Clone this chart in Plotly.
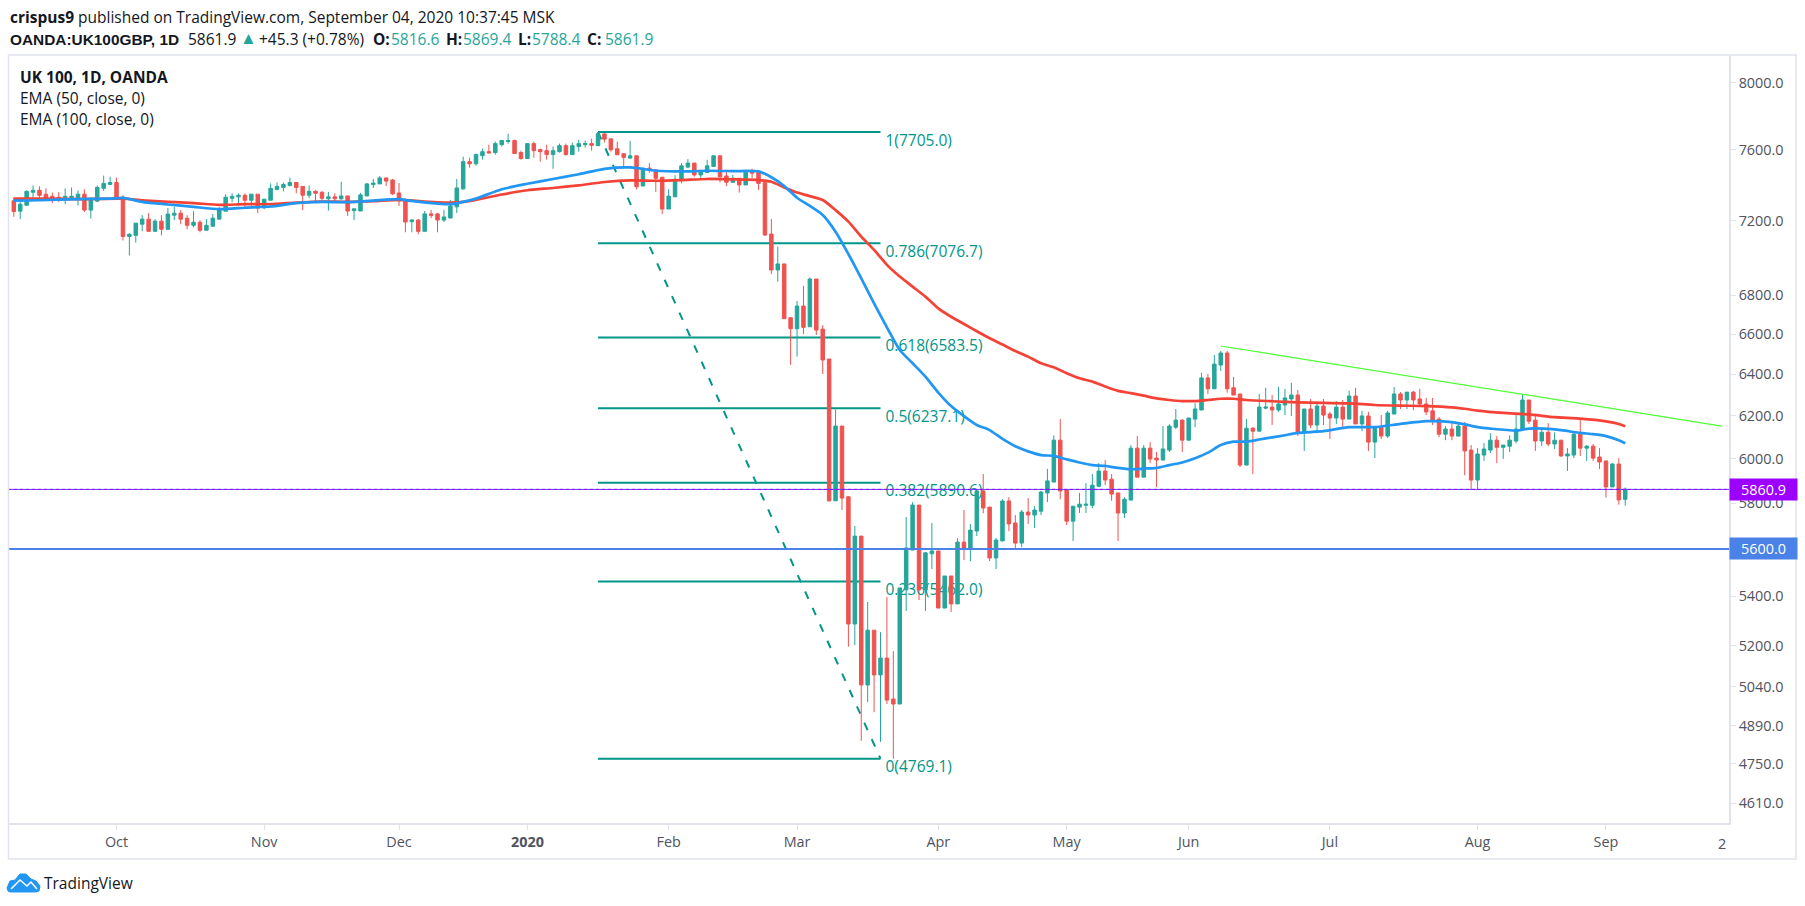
import math
import pandas as pd
import plotly.graph_objects as go

# daily candles, one row per ten bars, first bar 2019-09-09
opens = [
    7310, 7252, 7285, 7358, 7369, 7347, 7335, 7330, 7317, 7328,
    7328, 7347, 7258, 7308, 7380, 7402, 7413, 7330, 7113, 7119,
    7180, 7208, 7141, 7197, 7152, 7230, 7241, 7213, 7174, 7191,
    7147, 7169, 7208, 7252, 7324, 7332, 7341, 7313, 7347, 7271,
    7313, 7374, 7385, 7396, 7413, 7391, 7341, 7363, 7358, 7321,
    7332, 7321, 7337, 7255, 7253, 7337, 7401, 7405, 7439, 7427,
    7354, 7315, 7194, 7203, 7141, 7237, 7237, 7203, 7214, 7276,
    7377, 7532, 7520, 7567, 7590, 7585, 7631, 7649, 7655, 7585,
    7550, 7637, 7602, 7596, 7573, 7590, 7625, 7573, 7620, 7631,
    7637, 7625, 7694, 7665, 7607, 7578, 7553, 7566, 7393, 7495,
    7485, 7443, 7264, 7332, 7427, 7501, 7524, 7456, 7470, 7505,
    7566, 7450, 7414, 7437, 7399, 7476, 7470, 7412, 7126, 6933,
    6965, 6684, 6628, 6744, 6638, 6885, 6626, 6476, 5810, 6152,
    5828, 5287, 5655, 5046, 5262, 5085, 5151, 4992, 4973, 5427,
    5595, 5791, 5427, 5579, 5591, 5352, 5485, 5369, 5629, 5604,
    5677, 5854, 5782, 5561, 5634, 5809, 5712, 5625, 5760, 5747,
    5764, 5845, 5894, 6086, 5858, 5720, 5782, 5790, 5790, 5875,
    5944, 5907, 5845, 5756, 5813, 6049, 5916, 6049, 6003, 5994,
    6040, 6147, 6180, 6086, 6185, 6228, 6383, 6330, 6446, 6506,
    6335, 6305, 5971, 6142, 6128, 6237, 6242, 6228, 6252, 6281,
    6300, 6123, 6233, 6157, 6247, 6209, 6190, 6242, 6185, 6295,
    6162, 6200, 6077, 6147, 6105, 6209, 6305, 6276, 6314, 6281,
    6257, 6224, 6185, 6114, 6138, 6105, 6152, 6040, 5903, 6017,
    6040, 6086, 6053, 6058, 6082, 6138, 6276, 6180, 6082, 6123,
    6068, 6086, 6013, 6017, 6114, 6049, 6058, 6008, 5990, 5872, 5976, 5816.6,
]
highs = [
    7328, 7306, 7369, 7396, 7391, 7380, 7356, 7359, 7380, 7385,
    7367, 7374, 7328, 7396, 7452, 7446, 7441, 7341, 7130, 7186,
    7230, 7241, 7208, 7230, 7269, 7276, 7258, 7230, 7252, 7202,
    7208, 7236, 7274, 7347, 7352, 7352, 7352, 7347, 7347, 7319,
    7408, 7413, 7413, 7441, 7413, 7391, 7396, 7369, 7363, 7360,
    7352, 7418, 7337, 7265, 7354, 7410, 7433, 7450, 7439, 7433,
    7410, 7321, 7209, 7209, 7253, 7259, 7242, 7259, 7315, 7433,
    7561, 7555, 7579, 7608, 7631, 7649, 7655, 7695, 7660, 7596,
    7637, 7649, 7608, 7631, 7620, 7637, 7637, 7643, 7660, 7655,
    7666, 7705, 7698, 7665, 7648, 7582, 7653, 7566, 7495, 7524,
    7485, 7443, 7376, 7455, 7524, 7547, 7524, 7485, 7543, 7566,
    7566, 7485, 7456, 7437, 7476, 7491, 7476, 7412, 7208, 7058,
    6965, 6684, 6770, 6849, 6892, 6885, 6646, 6476, 6231, 6152,
    5828, 5699, 5655, 5377, 5262, 5254, 5397, 5178, 5435, 5738,
    5804, 5791, 5587, 5712, 5591, 5485, 5485, 5646, 5769, 5708,
    5858, 5930, 5782, 5647, 5817, 5826, 5747, 5769, 5822, 5787,
    5854, 5954, 6109, 6185, 5858, 5786, 5845, 5889, 5930, 5980,
    5994, 5930, 5845, 5826, 6063, 6105, 6063, 6077, 6031, 6152,
    6161, 6233, 6185, 6190, 6260, 6408, 6403, 6496, 6516, 6516,
    6388, 6305, 6185, 6147, 6305, 6335, 6300, 6339, 6330, 6359,
    6325, 6233, 6281, 6266, 6281, 6219, 6271, 6276, 6320, 6335,
    6224, 6219, 6147, 6204, 6224, 6339, 6314, 6314, 6320, 6330,
    6286, 6286, 6195, 6152, 6171, 6171, 6171, 6063, 6049, 6072,
    6118, 6105, 6063, 6109, 6214, 6305, 6276, 6204, 6147, 6166,
    6123, 6086, 6049, 6123, 6185, 6063, 6068, 6049, 5990, 5980, 6003, 5869.4,
]
lows = [
    7221, 7208, 7285, 7328, 7319, 7313, 7297, 7304, 7291, 7315,
    7284, 7247, 7211, 7304, 7365, 7402, 7319, 7091, 7010, 7080,
    7141, 7141, 7141, 7119, 7152, 7202, 7180, 7152, 7163, 7136,
    7147, 7169, 7208, 7252, 7302, 7285, 7269, 7280, 7241, 7263,
    7313, 7369, 7363, 7391, 7352, 7258, 7324, 7297, 7297, 7255,
    7309, 7315, 7225, 7203, 7253, 7337, 7382, 7405, 7393, 7343,
    7281, 7136, 7136, 7125, 7141, 7214, 7136, 7192, 7214, 7242,
    7371, 7497, 7509, 7544, 7579, 7573, 7620, 7637, 7579, 7544,
    7550, 7555, 7532, 7544, 7491, 7585, 7567, 7573, 7590, 7614,
    7596, 7625, 7644, 7590, 7572, 7505, 7547, 7374, 7393, 7468,
    7360, 7236, 7264, 7332, 7408, 7495, 7446, 7433, 7470, 7505,
    7414, 7393, 7414, 7356, 7399, 7437, 7371, 7116, 6911, 6871,
    6679, 6447, 6488, 6601, 6638, 6596, 6402, 5806, 5810, 5769,
    5196, 5202, 4835, 4980, 4942, 4831, 4973, 4769.1, 4973, 5340,
    5595, 5385, 5340, 5514, 5352, 5352, 5336, 5369, 5552, 5548,
    5655, 5755, 5548, 5514, 5634, 5677, 5604, 5607, 5708, 5690,
    5747, 5804, 5894, 5817, 5703, 5634, 5756, 5756, 5777, 5871,
    5880, 5810, 5634, 5734, 5813, 5916, 5916, 5980, 5871, 5994,
    6031, 6138, 6031, 6086, 6147, 6228, 6305, 6330, 6417, 6311,
    6300, 5962, 5971, 5930, 6128, 6232, 6157, 6219, 6204, 6200,
    6105, 6036, 6142, 6118, 6157, 6091, 6162, 6142, 6185, 6162,
    6128, 6036, 6003, 6091, 6096, 6209, 6233, 6233, 6228, 6242,
    6204, 6157, 6100, 6086, 6086, 6105, 5925, 5859, 5859, 5990,
    6026, 5980, 5999, 6031, 6072, 6138, 6162, 6036, 6058, 6058,
    6045, 6008, 5944, 6003, 6013, 5990, 5990, 5953, 5824, 5872, 5793, 5788.4,
]
closes = [
    7250, 7291, 7363, 7369, 7341, 7326, 7322, 7324, 7335, 7335,
    7347, 7258, 7319, 7385, 7408, 7413, 7328, 7113, 7125, 7186,
    7208, 7141, 7197, 7152, 7236, 7241, 7208, 7174, 7191, 7147,
    7174, 7213, 7263, 7330, 7335, 7341, 7313, 7347, 7269, 7319,
    7380, 7391, 7402, 7413, 7385, 7341, 7363, 7352, 7324, 7332,
    7321, 7337, 7253, 7265, 7343, 7405, 7410, 7439, 7421, 7349,
    7309, 7192, 7203, 7141, 7237, 7229, 7203, 7220, 7281, 7382,
    7532, 7520, 7573, 7590, 7583, 7637, 7655, 7655, 7579, 7550,
    7637, 7596, 7590, 7573, 7596, 7625, 7573, 7625, 7637, 7637,
    7627, 7695, 7663, 7601, 7572, 7557, 7566, 7389, 7495, 7485,
    7437, 7264, 7336, 7431, 7508, 7524, 7456, 7476, 7508, 7566,
    7446, 7414, 7437, 7399, 7476, 7466, 7408, 7121, 6933, 6965,
    6679, 6628, 6744, 6635, 6885, 6621, 6471, 5810, 6152, 5822,
    5287, 5655, 5046, 5262, 5085, 5151, 4988, 4973, 5435, 5604,
    5791, 5427, 5583, 5591, 5352, 5485, 5369, 5629, 5604, 5681,
    5854, 5778, 5561, 5638, 5809, 5708, 5625, 5760, 5747, 5769,
    5849, 5899, 6086, 5854, 5720, 5786, 5795, 5795, 5880, 5944,
    5903, 5840, 5756, 5817, 6049, 5916, 6049, 5999, 5994, 6045,
    6152, 6180, 6086, 6190, 6233, 6383, 6330, 6451, 6506, 6330,
    6300, 5971, 6142, 6128, 6242, 6242, 6228, 6257, 6286, 6300,
    6123, 6233, 6157, 6247, 6204, 6190, 6242, 6185, 6295, 6162,
    6200, 6077, 6147, 6105, 6214, 6305, 6276, 6314, 6276, 6257,
    6219, 6175, 6114, 6138, 6105, 6152, 6036, 5903, 6022, 6045,
    6086, 6053, 6063, 6086, 6138, 6276, 6175, 6082, 6123, 6068,
    6086, 6013, 6022, 6114, 6049, 6058, 6003, 5985, 5872, 5976, 5814, 5861.9,
]

# EMA readings, at the bar numbers listed next to them
ema50_bars = [
    0, 4, 10, 15, 17, 20, 24, 28, 32, 36, 40, 44, 48, 52, 56,
    60, 62, 66, 68, 70, 72, 76, 80, 84, 88, 92, 96, 100, 104, 108,
    112, 116, 118, 120, 122, 124, 126, 128, 130, 132, 134, 136, 138, 140, 142,
    144, 146, 148, 150, 152, 154, 156, 158, 160, 162, 164, 166, 168, 170, 172,
    174, 176, 178, 180, 182, 184, 186, 188, 190, 192, 194, 196, 198, 200, 204,
    208, 212, 216, 220, 224, 226, 228, 230, 234, 236, 240, 244, 246, 248, 250, 251,
]
ema50 = [
    7311, 7313, 7319, 7322, 7326, 7304, 7289, 7276, 7263, 7271, 7278, 7297, 7304, 7302, 7311,
    7319, 7309, 7294, 7291, 7304, 7322, 7375, 7406, 7433, 7460, 7491, 7499, 7480, 7476, 7480,
    7478, 7476, 7443, 7393, 7327, 7281, 7231, 7139, 7018, 6889, 6758, 6635, 6521, 6455, 6389,
    6312, 6247, 6199, 6157, 6133, 6092, 6058, 6034, 6017, 6013, 5997, 5983, 5971, 5967, 5958,
    5952, 5955, 5958, 5971, 5983, 6002, 6028, 6063, 6079, 6079, 6089, 6099, 6109, 6120, 6128,
    6147, 6147, 6162, 6175, 6171, 6160, 6147, 6140, 6131, 6140, 6136, 6120, 6114, 6105, 6086, 6072,
]
ema100_bars = [
    0, 4, 10, 17, 20, 24, 28, 32, 36, 40, 44, 48, 52, 56, 60,
    64, 68, 70, 72, 76, 80, 84, 88, 92, 96, 100, 104, 108, 112, 116,
    118, 120, 122, 124, 126, 128, 130, 132, 134, 136, 138, 140, 142, 144, 146,
    148, 150, 152, 154, 156, 158, 160, 162, 164, 166, 168, 170, 172, 174, 176,
    178, 180, 182, 184, 186, 188, 190, 192, 196, 200, 204, 208, 212, 216, 220,
    224, 226, 228, 232, 236, 240, 244, 248, 250, 251,
]
ema100 = [
    7322, 7322, 7319, 7322, 7313, 7304, 7297, 7287, 7291, 7291, 7300, 7306, 7304, 7308, 7315,
    7306, 7300, 7304, 7315, 7345, 7369, 7382, 7397, 7416, 7425, 7423, 7427, 7433, 7431, 7427,
    7417, 7385, 7356, 7336, 7314, 7258, 7194, 7112, 7040, 6960, 6898, 6845, 6793, 6732, 6689,
    6652, 6615, 6580, 6548, 6516, 6488, 6455, 6435, 6406, 6381, 6365, 6341, 6320, 6309, 6297,
    6284, 6276, 6271, 6271, 6276, 6282, 6282, 6276, 6270, 6265, 6262, 6260, 6252, 6249, 6247,
    6241, 6234, 6225, 6214, 6207, 6194, 6187, 6174, 6162, 6151,
]

fib_levels = ["1", "0.786", "0.618", "0.5", "0.382", "0.236", "0"]
fib_prices = [7705.0, 7076.7, 6583.5, 6237.1, 5890.6, 5462.0, 4769.1]
fib_start = "2020-01-17"
fib_end = "2020-03-19"

trend_dates = ["2020-06-08", "2020-09-25"]
trend_prices = [6541, 6152]

last_price = 5860.9
support_price = 5600.0

month_dates = ["2019-10-01", "2019-11-01", "2019-12-02", "2020-01-02", "2020-02-03", "2020-03-02",
               "2020-04-01", "2020-05-01", "2020-06-01", "2020-07-01", "2020-08-03", "2020-09-01"]
month_labels = ["Oct", "Nov", "Dec", "<b>2020</b>", "Feb", "Mar", "Apr", "May", "Jun", "Jul", "Aug", "Sep"]
price_ticks = [8000, 7600, 7200, 6800, 6600, 6400, 6200, 6000, 5800, 5600, 5400, 5200, 5040, 4890, 4750, 4610]

holidays = ["2019-12-25", "2019-12-26", "2020-01-01", "2020-04-10", "2020-04-13", "2020-05-08", "2020-05-25", "2020-08-31"]
all_days = [d.strftime("%Y-%m-%d") for d in pd.bdate_range("2019-09-09", "2020-10-02")]
all_days = [d for d in all_days if d not in holidays]
bar_days = all_days[:len(closes)]

GREEN = "#26a69a"
RED = "#ef5350"
FIB = "#009688"
AXIS = "#e0e3eb"
TEXT = "#131722"
FONT = "Open Sans"

# plot box in page pixels
L, R, T, B = 8, 1729, 55, 823
PX_PER_BAR = 6.42
PX_PER_LOG = 1306  # vertical pixels per unit of ln(price)


def px(x):
    return (x - L) / (R - L)


def py(y):
    return (B - y) / (B - T)


def label(x, y, text, size=15.5, color=TEXT, family=FONT, **kw):
    fig.add_annotation(xref="paper", yref="paper", x=px(x), y=py(y), text=text, showarrow=False,
                       xanchor=kw.pop("xanchor", "left"), yanchor="middle",
                       font=dict(family=family, size=size, color=color), **kw)


fig = go.Figure()

fig.add_trace(go.Candlestick(
    x=bar_days, open=opens, high=highs, low=lows, close=closes,
    increasing=dict(line=dict(color=GREEN, width=1), fillcolor=GREEN),
    decreasing=dict(line=dict(color=RED, width=1), fillcolor=RED),
    whiskerwidth=0, showlegend=False, hoverinfo="skip",
))
fig.add_trace(go.Scatter(x=[bar_days[i] for i in ema100_bars], y=ema100, mode="lines",
                         line=dict(color="#f44336", width=2.7, shape="spline", smoothing=0.6), showlegend=False))
fig.add_trace(go.Scatter(x=[bar_days[i] for i in ema50_bars], y=ema50, mode="lines",
                         line=dict(color="#2196f3", width=2.7, shape="spline", smoothing=0.6), showlegend=False))
fig.add_trace(go.Scatter(x=trend_dates, y=trend_prices, mode="lines",
                         line=dict(color="#4dff33", width=1.2), showlegend=False))

# fibonacci lines and their labels stay behind the candles
for level, price in zip(fib_levels, fib_prices):
    fig.add_shape(type="line", xref="x", yref="y", x0=fib_start, x1=fib_end, y0=price, y1=price,
                  layer="below", line=dict(color=FIB, width=2))
    text_y = price * math.exp(-9 / PX_PER_LOG)
    fig.add_shape(type="line", xref="x", yref="y", x0=fib_start, x1=fib_end, y0=text_y, y1=text_y,
                  layer="below", line=dict(color="rgba(0,0,0,0)", width=1),
                  label=dict(text=f"{level}({price:.1f})", textposition="end", xanchor="left", yanchor="middle",
                             padding=5, textangle=0, font=dict(family=FONT, size=15.5, color=FIB)))
fig.add_shape(type="line", xref="x", yref="y", x0=fib_start, x1=fib_end, y0=fib_prices[0], y1=fib_prices[-1],
              layer="below", line=dict(color=FIB, width=2, dash="8px,10px"))

fig.add_shape(type="line", xref="paper", yref="y", x0=0, x1=1, y0=last_price, y1=last_price,
              line=dict(color="#3f51f5", width=1))
fig.add_shape(type="line", xref="paper", yref="y", x0=0, x1=1, y0=last_price, y1=last_price,
              line=dict(color="#9c00ff", width=1, dash="dot"))
fig.add_shape(type="line", xref="paper", yref="y", x0=0, x1=1, y0=support_price, y1=support_price,
              line=dict(color="#4a82e8", width=2))

# outer frame of the snapshot
fig.add_shape(type="rect", xref="paper", yref="paper", x0=px(8.5), x1=px(1796), y0=py(859), y1=py(55),
              line=dict(color=AXIS, width=1.5))

# logo
cloud = [(7, 888), (10, 881), (15, 880), (20, 874), (26, 874), (31, 879), (36, 881), (40, 886), (39, 891), (36, 892), (10, 892), (8, 891)]
zigzag = [(11, 889), (20, 880), (27, 886), (31, 882), (37, 889)]
fig.add_shape(type="path", xref="paper", yref="paper", fillcolor="#2196f3", line=dict(color="#2196f3", width=1),
              path="M" + " L".join(f"{px(x):.5f},{py(y):.5f}" for x, y in cloud) + " Z")
fig.add_shape(type="path", xref="paper", yref="paper", line=dict(color="white", width=1.5),
              path="M" + " L".join(f"{px(x):.5f},{py(y):.5f}" for x, y in zigzag))
label(42, 883, "TradingView", size=15.5)

label(8, 17, "<b>crispus9</b> published on TradingView.com, September 04, 2020 10:37:45 MSK")
# header quote line, each piece at its own place
label(8, 39, "<b>OANDA:UK100GBP, 1D</b>", size=15.4, family="Liberation Sans")
label(186, 39, "5861.9")
label(238, 38, "▲", color=GREEN, size=17)
label(257, 39, "+45.3 (+0.78%)")
for x, name in [(371, "O:"), (444, "H:"), (516, "L:"), (585, "C:")]:
    label(x, 39, f"<b>{name}</b>")
for x, value in [(389, "5816.6"), (461, "5869.4"), (530, "5788.4"), (603, "5861.9")]:
    label(x, 39, value, color=GREEN)

label(18, 77, "<b>UK 100, 1D, OANDA</b>")
label(18, 98, "EMA (50, close, 0)")
label(18, 119, "EMA (100, close, 0)")
label(1722, 843, "2", size=14.4, xanchor="center", color="#50535e")

# price labels sitting on the axis
for price, color in [(last_price, "#9c00ff"), (support_price, "#4a82e8")]:
    fig.add_annotation(xref="paper", yref="y", x=1, y=math.log10(price), text=f"{price:.1f}", showarrow=False,
                       xanchor="left", yanchor="middle", width=67, height=21, bgcolor=color, borderpad=0,
                       font=dict(family=FONT, size=14.4, color="white"))

fig.update_layout(
    width=1805, height=906, autosize=False,
    margin=dict(l=L, r=1805 - R, t=T, b=906 - B, pad=0),
    paper_bgcolor="white", plot_bgcolor="white",
    showlegend=False, boxgap=0.22,
    font=dict(family=FONT, size=14.4, color="#50535e"),
)
fig.update_xaxes(
    type="category", categoryorder="array", categoryarray=all_days,
    range=[(L - 13.8) / PX_PER_BAR, (R - 13.8) / PX_PER_BAR],
    rangeslider_visible=False, showgrid=False, zeroline=False,
    tickmode="array", tickvals=month_dates, ticktext=month_labels, tickangle=0,
    ticks="outside", ticklen=5, tickcolor=AXIS, tickwidth=1,
    showline=True, linecolor=AXIS, linewidth=1.5,
)
fig.update_yaxes(
    type="log", side="right", range=[math.log10(4540), math.log10(8173)],
    showgrid=False, zeroline=False,
    tickmode="array", tickvals=price_ticks, ticktext=[f"{v:.1f}" for v in price_ticks],
    ticks="outside", ticklen=5, tickcolor=AXIS, tickwidth=1,
    showline=True, linecolor=AXIS, linewidth=1.5,
)

fig.write_html("out.html", config={"displayModeBar": False},
               post_script="document.body.style.margin='0';document.body.style.overflow='hidden';")
